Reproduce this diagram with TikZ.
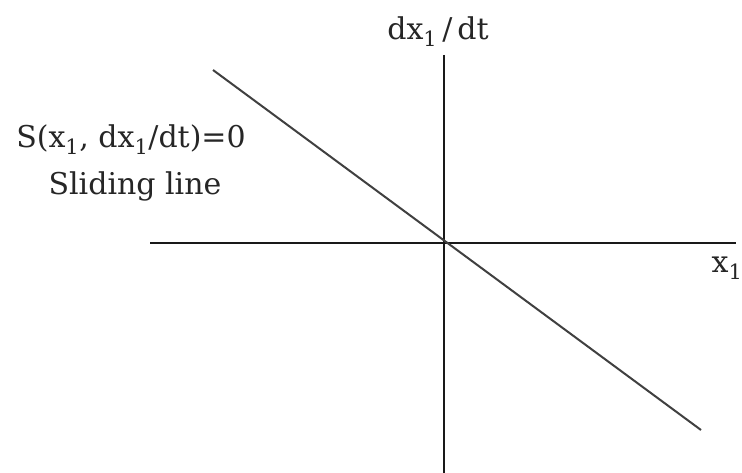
\documentclass[tikz,border=0pt]{standalone}
\usepackage{fontspec}
\setmainfont{DejaVu Serif}
\tikzset{
  axis/.style={line width=2.2pt, black!90},
  slide/.style={line width=2pt, black!75},
  lbl/.style={inner sep=0pt, text=black!85, font=\fontsize{30}{34}\selectfont}
}
\begin{document}
\begin{tikzpicture}[x=1pt,y=-1pt]
\useasboundingbox (0,0) rectangle (742,473);
\coordinate (xl) at (150,243);
\coordinate (xr) at (736,243);
\coordinate (yt) at (444,55);
\coordinate (yb) at (444,473);
\coordinate (st) at (213,70);
\coordinate (sb) at (701,430);
\draw[axis] (xl) -- (xr);
\draw[axis] (yt) -- (yb);
\draw[slide] (st) -- (sb);
\node[lbl] (ylab) at (438,32) {dx\textsubscript{1}\,/\,dt};
\node[lbl] (xlab) at (727,268) {x\textsubscript{1}};
\node[lbl] (seq) at (131,140) {S(x\textsubscript{1}, dx\textsubscript{1}/dt)=0};
\node[lbl] (sname) at (135,186) {Sliding line};
\end{tikzpicture}
\end{document}
